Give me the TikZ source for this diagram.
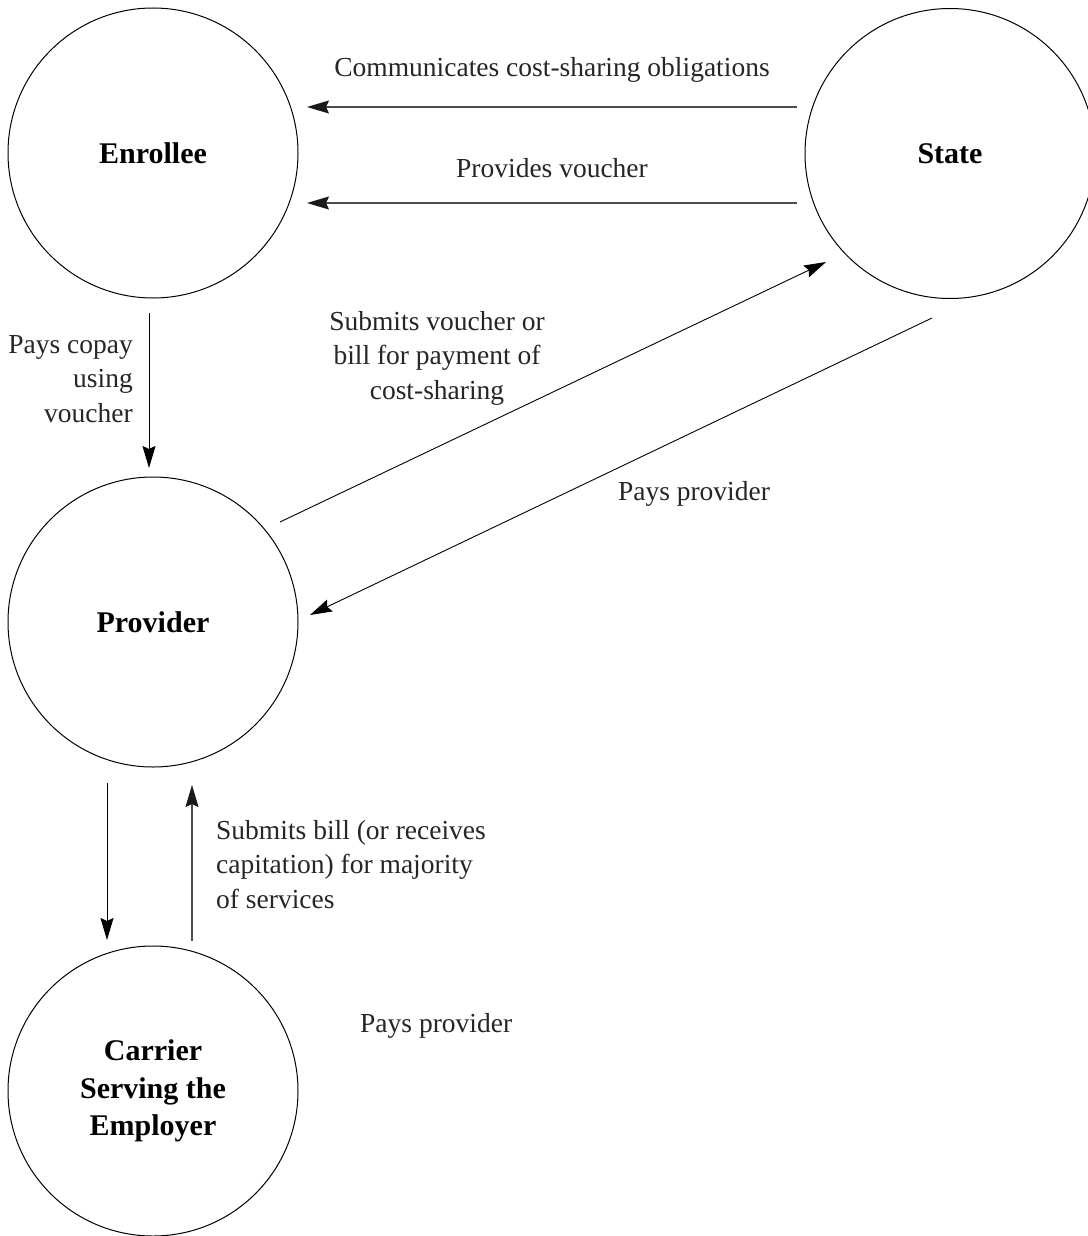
\documentclass[tikz,border=0pt]{standalone}
\usepackage{fontspec}
\setmainfont{Liberation Serif}
\usetikzlibrary{arrows.meta}
\begin{document}
\begin{tikzpicture}[x=1pt,y=-1pt,
  party/.style={circle,draw=black,line width=1pt,inner sep=0pt,minimum size=290pt,
    align=center,font=\fontsize{30}{37.5}\selectfont\bfseries},
  lbl/.style={inner sep=0pt,font=\fontsize{27.5}{34.5}\selectfont,text=black!85},
  arr/.style={draw=black,line width=0.9pt,-{Stealth[length=22pt,width=13pt,inset=3pt]}},
  garr/.style={draw=black!70,line width=1.4pt,-{Stealth[length=22pt,width=13pt,inset=3pt,color=black!90,fill=black!90]}}]
\useasboundingbox (0,0) rectangle (1087,1236);
\fill[white] (0,0) rectangle (1087,1236);

% parties
\node[party] (enr) at (153,153) {Enrollee};
\node[party] (sta) at (950,153.5) {State};
\node[party] (prov) at (153,622) {Provider};
\node[party] (carr) at (153,1091) {Carrier\\Serving the\\Employer};

% connector end points
\coordinate (a1s) at (797,107);  \coordinate (a1e) at (307,107);
\coordinate (a2s) at (797,203);  \coordinate (a2e) at (307,203);
\coordinate (a3s) at (149,313);  \coordinate (a3e) at (149,468);
\coordinate (a4s) at (280,522);  \coordinate (a4e) at (826,262);
\coordinate (a5s) at (932,318);  \coordinate (a5e) at (310,615);
\coordinate (a6s) at (107,783);  \coordinate (a6e) at (107,940);
\coordinate (a7s) at (192,941);  \coordinate (a7e) at (192,785);

% connectors
\draw[garr] (a1s) -- (a1e);
\draw[garr] (a2s) -- (a2e);
\draw[arr] (a3s) -- (a3e);
\draw[arr] (a4s) -- (a4e);
\draw[arr] (a5s) -- (a5e);
\draw[arr] (a6s) -- (a6e);
\draw[garr] (a7s) -- (a7e);

% labels
\node[lbl,anchor=base] (l1) at (552,77) {Communicates cost-sharing obligations};
\node[lbl,anchor=base] (l2) at (552,177) {Provides voucher};
\node[lbl,anchor=north east,align=right] (l3) at (133,329)
  {\strut Pays copay\\\strut using\\\strut voucher};
\node[lbl,anchor=north,align=center] (l4) at (437,306)
  {\strut Submits voucher or\\\strut bill for payment of\\\strut cost-sharing};
\node[lbl,anchor=base] (l5) at (694,500) {Pays provider};
\node[lbl,anchor=north west,align=left] (l6) at (216,815)
  {\strut Submits bill (or receives\\\strut capitation) for majority\\\strut of services};
\node[lbl,anchor=base west] (l7) at (360,1032) {Pays provider};
\end{tikzpicture}
\end{document}
